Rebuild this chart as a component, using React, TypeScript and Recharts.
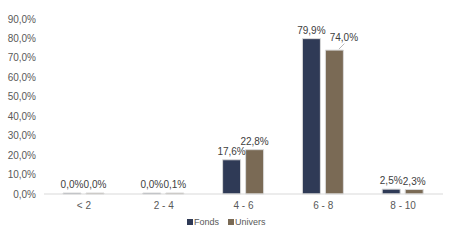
import React from 'react';
import { BarChart, Bar, XAxis, YAxis, Legend, LabelList } from 'recharts';

const categories = ['< 2', '2 - 4', '4 - 6', '6 - 8', '8 - 10'];
const fonds = [0.0, 0.0, 17.6, 79.9, 2.5];
const univers = [0.0, 0.1, 22.8, 74.0, 2.3];
const yTicks = [0, 10, 20, 30, 40, 50, 60, 70, 80, 90];

const data = categories.map((c, i) => ({ name: c, Fonds: fonds[i], Univers: univers[i] }));

const fmt = (v: number) => v.toFixed(1).replace('.', ',') + '%';
const FONT = '"Liberation Sans", Arial, sans-serif';

const UniversLabel = (props: any) => {
  const { x, y, width, value, index } = props;
  const cx = x + width / 2;
  if (index === 3) {
    return (
      <g>
        <line x1={cx + 4.5} y1={y - 1} x2={cx + 10} y2={y - 6.5} stroke="#A6A6A6" strokeWidth={0.8} />
        <text x={cx + 9.5} y={y - 9} textAnchor="middle" fontSize={10} fill="#404040" fontFamily={FONT}>
          {fmt(value)}
        </text>
      </g>
    );
  }
  return (
    <text x={cx} y={y - 5} textAnchor="middle" fontSize={10} fill="#404040" fontFamily={FONT}>
      {fmt(value)}
    </text>
  );
};

const FondsLabel = (props: any) => {
  const { x, y, width, value } = props;
  const cx = x + width / 2;
  return (
    <text x={cx} y={y - 5} textAnchor="middle" fontSize={10} fill="#404040" fontFamily={FONT}>
      {fmt(value)}
    </text>
  );
};

const LegendContent = (props: any) => {
  const { payload } = props;
  return (
    <div style={{ display: 'flex', alignItems: 'center', fontSize: 9, fontFamily: FONT, color: '#595959', lineHeight: '12px' }}>
      {(payload || []).map((p: any, i: number) => (
        <div key={i} style={{ display: 'flex', alignItems: 'center', marginRight: i === 0 ? 9 : 0 }}>
          <span style={{ display: 'inline-block', width: 6, height: 6, background: p.color, marginRight: 1 }} />
          <span>{p.value}</span>
        </div>
      ))}
    </div>
  );
};

export default function App() {
  return (
    <div style={{ position: 'absolute', left: 0, top: 0, width: 462, height: 249, background: '#fff', fontFamily: FONT }}>
      <BarChart
        width={462}
        height={249}
        data={data}
        margin={{ top: 19, right: 19, left: 0, bottom: 25 }}
        barSize={18}
        barGap={5}
      >
        <XAxis
          dataKey="name"
          axisLine={{ stroke: '#D9D9D9' }}
          tickLine={false}
          tick={{ fontSize: 10, fill: '#595959', fontFamily: FONT }}
          interval={0}
        />
        <YAxis
          width={44}
          domain={[0, 90]}
          ticks={yTicks}
          interval={0}
          axisLine={false}
          tickLine={false}
          tickFormatter={(v: number) => fmt(v)}
          tick={{ fontSize: 10, fill: '#595959', fontFamily: FONT }}
        />
        <Legend
          layout="horizontal"
          verticalAlign="middle"
          align="center"
          content={<LegendContent />}
          wrapperStyle={{ left: 187, width: 90, top: 216, bottom: 'auto' }}
        />
        <Bar dataKey="Fonds" fill="#2F3A56" stroke="#D9D9D9" strokeWidth={1} minPointSize={1} isAnimationActive={false}>
          <LabelList dataKey="Fonds" content={<FondsLabel />} />
        </Bar>
        <Bar dataKey="Univers" fill="#7A6A55" stroke="#D9D9D9" strokeWidth={1} minPointSize={1} isAnimationActive={false}>
          <LabelList dataKey="Univers" content={<UniversLabel />} />
        </Bar>
      </BarChart>
    </div>
  );
}
